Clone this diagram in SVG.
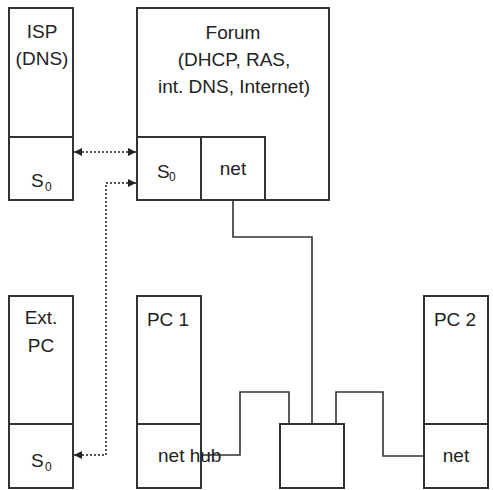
<svg xmlns="http://www.w3.org/2000/svg" width="493" height="490" viewBox="0 0 493 490">
<style>
.box{fill:#fff;stroke:#333;stroke-width:2}
.t{font-family:"Liberation Sans",Arial,sans-serif;font-size:19px;fill:#222}
.m{text-anchor:middle}
.sub{font-size:12px}
.wire{fill:none;stroke:#333;stroke-width:1.6}
.dot{fill:none;stroke:#555;stroke-width:2;stroke-dasharray:2,2}
</style>
<defs>
<marker id="ah" viewBox="0 0 8 8" refX="8" refY="4" markerWidth="8" markerHeight="8" orient="auto-start-reverse" markerUnits="userSpaceOnUse">
<path d="M0,0 L8,4 L0,8 z" fill="#222"/>
</marker>
</defs>
<rect width="493" height="490" fill="#fff"/>
<g id="connectors">
<path class="wire" d="M233,200 V237 H312 V424"/>
<path class="wire" d="M201,455 H240 V392 H289 V424"/>
<path class="wire" d="M336,424 V392 H383 V456 H424"/>
<path class="dot" d="M74,152 H136" marker-start="url(#ah)" marker-end="url(#ah)"/>
<path class="dot" d="M74,455 H106 V183 H136" marker-start="url(#ah)" marker-end="url(#ah)"/>
</g>
<g id="isp">
<rect class="box" x="9" y="8" width="64" height="192"/>
<line class="box" x1="9" y1="137" x2="73" y2="137"/>
<text class="t m" x="42" y="38">ISP</text>
<text class="t m" x="42" y="65">(DNS)</text>
<text class="t" x="31" y="187">S</text><text class="t sub" x="45" y="191">0</text>
</g>
<g id="forum">
<rect class="box" x="137" y="8" width="192" height="192"/>
<rect class="box" x="137" y="137" width="64" height="63"/>
<rect class="box" x="201" y="137" width="64" height="63"/>
<text class="t m" x="233" y="39">Forum</text>
<text class="t m" x="234" y="66">(DHCP, RAS,</text>
<text class="t m" x="234" y="93">int. DNS, Internet)</text>
<text class="t" x="157" y="178">S</text><text class="t sub" x="169" y="181">0</text>
<text class="t m" x="233" y="175">net</text>
</g>
<g id="extpc">
<rect class="box" x="9" y="296" width="64" height="192"/>
<line class="box" x1="9" y1="424" x2="73" y2="424"/>
<text class="t m" x="41" y="324">Ext.</text>
<text class="t m" x="41" y="352">PC</text>
<text class="t" x="31" y="467">S</text><text class="t sub" x="45" y="471">0</text>
</g>
<g id="pc1">
<rect class="box" x="137" y="296" width="64" height="192"/>
<line class="box" x1="137" y1="424" x2="201" y2="424"/>
<text class="t m" x="168" y="326">PC 1</text>
<text class="t" x="158" y="462">net hub</text>
</g>
<g id="hub">
<rect class="box" x="280" y="424" width="64" height="64"/>
</g>
<g id="pc2">
<rect class="box" x="424" y="296" width="64" height="192"/>
<line class="box" x1="424" y1="424" x2="488" y2="424"/>
<text class="t m" x="455" y="326">PC 2</text>
<text class="t m" x="456" y="462">net</text>
</g>
</svg>
